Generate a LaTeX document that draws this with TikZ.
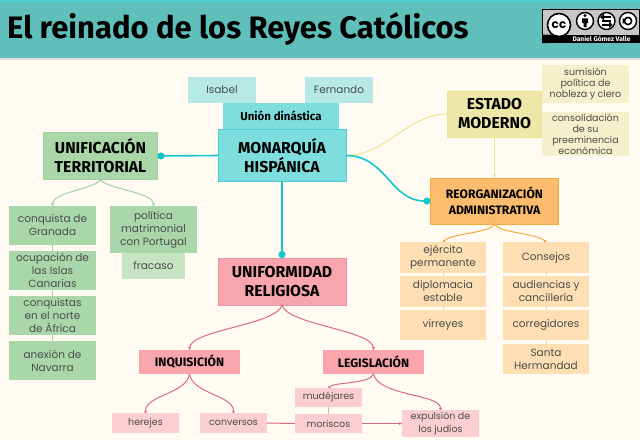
\documentclass[tikz,border=0pt]{standalone}
\usepackage{fontspec}
\setmainfont{Poppins}
\newfontfamily\headfont{Fira Sans}
\usetikzlibrary{arrows.meta,shadows}
\definecolor{bgc}{HTML}{FFFBF2}
\definecolor{titlec}{HTML}{5FBFBB}
\definecolor{tealtop}{HTML}{48CFCF}
\definecolor{tealb}{HTML}{7DDEDD}
\definecolor{teall}{HTML}{B6E9E4}
\definecolor{tealline}{HTML}{12C6CC}
\definecolor{greenb}{HTML}{A9D7A9}
\definecolor{greenl}{HTML}{C5E4C1}
\definecolor{greenline}{HTML}{A3CFA5}
\definecolor{yelb}{HTML}{EEE8A8}
\definecolor{yell}{HTML}{F4F0CB}
\definecolor{yelline}{HTML}{EDE28E}
\definecolor{orab}{HTML}{FBBC6E}
\definecolor{oral}{HTML}{FDDFB3}
\definecolor{oraline}{HTML}{F2A93F}
\definecolor{pinkb}{HTML}{F9A5AD}
\definecolor{pinkl}{HTML}{FBCED1}
\definecolor{pinkline}{HTML}{DB6A7E}
\definecolor{bodytxt}{HTML}{4C4C4C}
\tikzset{
  x=1pt,y=-1pt,
  boxbase/.style={inner sep=0pt,outer sep=0pt,align=center,text=bodytxt,font=\fontsize{10.5}{13}\selectfont,anchor=center},
  szbox/.style 2 args={minimum width=#1pt,minimum height=#2pt},
  head/.style={boxbase,text=black,font=\headfont\fontsize{15.8}{19}\selectfont\bfseries},
  subhead/.style={boxbase,text=black,font=\headfont\fontsize{12.2}{15.5}\selectfont\bfseries},
  conn/.style={line width=1pt},
  mainconn/.style={line width=1.6pt,tealline,-{Circle[length=7pt,width=7pt]}},
  tiparrow/.style={-{Stealth[length=3pt,width=3pt]}},
  tipsmall/.style={-{Circle[length=2.4pt,width=2.4pt]}},
  pinkbox/.style={boxbase,fill=pinkl,font=\fontsize{9.5}{11}\selectfont},
  yellowbox/.style={boxbase,fill=yell,font=\fontsize{9.5}{11}\selectfont},
  cclogo/.style={circle,draw=black,line width=1.4pt,fill=white,minimum size=17pt,inner sep=0pt},
}
\begin{document}
\begin{tikzpicture}
\useasboundingbox (0,0) rectangle (640,440);
\fill[bgc] (0,0) rectangle (640,440);
% title bar
\fill[black!12] (0,58) rectangle (640,60);
\fill[titlec] (0,0) rectangle (640,58);
\fill[tealtop] (0,0) rectangle (640,1.5);
\node[anchor=west,inner sep=0pt,font=\headfont\fontsize{31}{34}\selectfont\bfseries,text=black] (title) at (7,29) {El reinado de los Reyes Católicos};
% logo
\fill[black] (542,9) rectangle (640,43);
\fill[black!22] (543,10) rectangle (639,34.5);
\fill[black] (542,34.5) -- (553,34.5) -- (549,43) -- (542,43) -- cycle;
\node[circle,draw=black,line width=1.6pt,fill=white,minimum size=23pt,inner sep=0pt,font=\fontsize{12}{12}\selectfont\bfseries,text=black] (cc) at (559,25) {cc};
\node[cclogo] (by) at (585,21) {};
\fill[black] (585,15.5) circle (1.7pt);
\fill[black] (582,18.3) rectangle (588,23) (583.5,23) rectangle (586.5,27);
\node[cclogo] (sa) at (606.5,21) {};
\draw[line width=1.5pt] (601.5,17) -- (611,17) (602,21) -- (611,21) (602,25) -- (611,25);
\fill[black] (604,13.5) -- (600,17) -- (604,20.5) -- cycle (609,21) -- (612.5,25) -- (609,28) -- cycle;
\node[cclogo] (nc) at (628,21) {};
\draw[line width=1.6pt] (628,21) circle (3.6pt);
\fill[black] (622.5,18) -- (626,21) -- (622.5,24) -- cycle;
\node[inner sep=0pt,font=\headfont\fontsize{6.7}{8}\selectfont\bfseries,text=white] (author) at (601.5,38.8) {Daniel Gómez Valle};
% centre group
\node[boxbase,szbox={68}{26},fill=teall] (isabel) at (222,90) {Isabel};
\node[boxbase,szbox={68}{26},fill=teall] (fernando) at (339,90) {Fernando};
\node[boxbase,szbox={116}{26},fill=tealb,text=black,font=\headfont\fontsize{11.5}{14}\selectfont\bfseries] (union) at (281,116) {Unión dinástica};
\node[head,szbox={128}{52},fill=tealb,draw=tealtop,line width=.6pt] (mon) at (282,155.5) {MONARQUÍA\\HISPÁNICA};
% main heads
\node[head,szbox={114}{47},fill=greenb,draw=greenline,line width=.5pt] (uni) at (100.5,156) {UNIFICACIÓN\\TERRITORIAL};
\node[head,szbox={94}{46},fill=yelb,draw=yelline,line width=.5pt] (est) at (494.5,114) {ESTADO\\MODERNO};
\node[subhead,szbox={128}{46},fill=orab,draw=oraline,line width=.5pt] (reo) at (494.5,201) {REORGANIZACIÓN\\ADMINISTRATIVA};
\node[head,szbox={128}{47},fill=pinkb,draw=pinkline!70,line width=.5pt] (rel) at (282,281.5) {UNIFORMIDAD\\RELIGIOSA};
\node[subhead,szbox={101}{24},fill=pinkb] (inq) at (189.5,362) {INQUISICIÓN};
\node[subhead,szbox={101}{24},fill=pinkb] (leg) at (373.5,362) {LEGISLACIÓN};
% yellow
\node[yellowbox,szbox={87}{38}] (sum) at (585.5,84) {sumisión\\política de\\nobleza y clero};
\node[yellowbox,szbox={87}{44}] (con) at (585.5,134) {consolidación\\de su\\preeminencia\\económica};
% green
\node[boxbase,szbox={87}{39},fill=greenb] (gra) at (52.5,225.5) {conquista de\\Granada};
\node[boxbase,szbox={87}{39},fill=greenb] (isl) at (52.5,270.5) {ocupación de\\las Islas\\Canarias};
\node[boxbase,szbox={87}{39},fill=greenb] (afr) at (52.5,315.5) {conquistas\\en el norte\\de África};
\node[boxbase,szbox={87}{39},fill=greenb] (nav) at (52.5,360.5) {anexión de\\Navarra};
\node[boxbase,szbox={63}{26},fill=greenl] (fra) at (153.5,266) {fracaso};
\node[boxbase,szbox={87}{47},fill=greenb] (pol) at (153.5,229.5) {política\\matrimonial\\con Portugal};
% orange
\node[boxbase,szbox={86}{31},fill=oral] (eje) at (443,257.5) {ejército\\permanente};
\node[boxbase,szbox={86}{31},fill=oral] (dip) at (443,291.5) {diplomacia\\estable};
\node[boxbase,szbox={86}{30},fill=oral] (vir) at (443,325) {virreyes};
\node[boxbase,szbox={86}{31},fill=oral] (cons) at (546,257.5) {Consejos};
\node[boxbase,szbox={86}{31},fill=oral] (aud) at (546,291.5) {audiencias y\\cancillería};
\node[boxbase,szbox={86}{30},fill=oral] (cor) at (546,325) {corregidores};
\node[boxbase,szbox={86}{30},fill=oral] (san) at (546,359) {Santa\\Hermandad};
% pink
\node[pinkbox,szbox={67}{20}] (her) at (145.5,423) {herejes};
\node[pinkbox,szbox={67}{20}] (conv) at (233.5,423) {conversos};
\node[pinkbox,szbox={67}{19}] (mud) at (328.5,397.5) {mudéjares};
\node[pinkbox,szbox={67}{19}] (mor) at (328.5,423.5) {moriscos};
\node[pinkbox,szbox={77}{27},font=\fontsize{9.5}{12.5}\selectfont] (exp) at (440.5,423.5) {expulsión de\\los judíos};
% connectors
\draw[conn,yelline] (mon.east) .. controls +(40,0) and +(-40,0) .. (est.west);
\draw[mainconn] (mon.west) -- (uni.east);
\draw[mainconn,line width=2pt] (mon.south) -- (rel.north);
\draw[mainconn] (mon.east) .. controls +(40,0) and +(-40,0) .. (reo.west);
\draw[conn,yelline,tiparrow] (est.south) -- (reo.north);
\draw[conn,greenline,tiparrow] (uni.south) .. controls +(-4,9) and +(0,-14) .. (gra.north);
\draw[conn,greenline,tiparrow] (uni.south) .. controls +(4,9) and +(0,-14) .. (pol.north);
\draw[conn,greenline] (gra) -- (isl);
\draw[conn,greenline] (isl) -- (afr);
\draw[conn,greenline] (afr) -- (nav);
\draw[conn,oraline,tipsmall] (reo.south) .. controls +(-4,9) and +(10,-9) .. (eje.north);
\draw[conn,oraline,tipsmall] (reo.south) .. controls +(4,9) and +(-10,-9) .. (cons.north);
\draw[conn,oral!70!oraline] (eje) -- (dip);
\draw[conn,oral!70!oraline] (dip) -- (vir);
\draw[conn,oral!70!oraline] (cons) -- (aud);
\draw[conn,oral!70!oraline] (aud) -- (cor);
\draw[conn,oral!70!oraline] (cor) -- (san);
\draw[conn,pinkline,tiparrow] (rel.south) .. controls +(-5,20) and +(0,-20) .. (inq.north);
\draw[conn,pinkline,tiparrow] (rel.south) .. controls +(5,20) and +(0,-20) .. (leg.north);
\draw[conn,pinkline,tipsmall] (inq.south) .. controls +(-3,20) and +(0,-18) .. (her.north);
\draw[conn,pinkline,tipsmall] (inq.south) .. controls +(3,20) and +(0,-18) .. (conv.north);
\draw[conn,pinkline,tipsmall] (leg.south) .. controls +(-3,10) and +(6,-6) .. (mud.north);
\draw[conn,pinkline,tipsmall] (leg.south) .. controls +(5,22) and +(0,-16) .. (exp.north);
\draw[conn,pinkline] (conv.east) -- (mor.west);
\draw[conn,pinkline,tiparrow] (mor.east) -- (exp.west);
\draw[conn,pinkl!60!black!50] (mud) -- (mor);
\end{tikzpicture}
\end{document}
